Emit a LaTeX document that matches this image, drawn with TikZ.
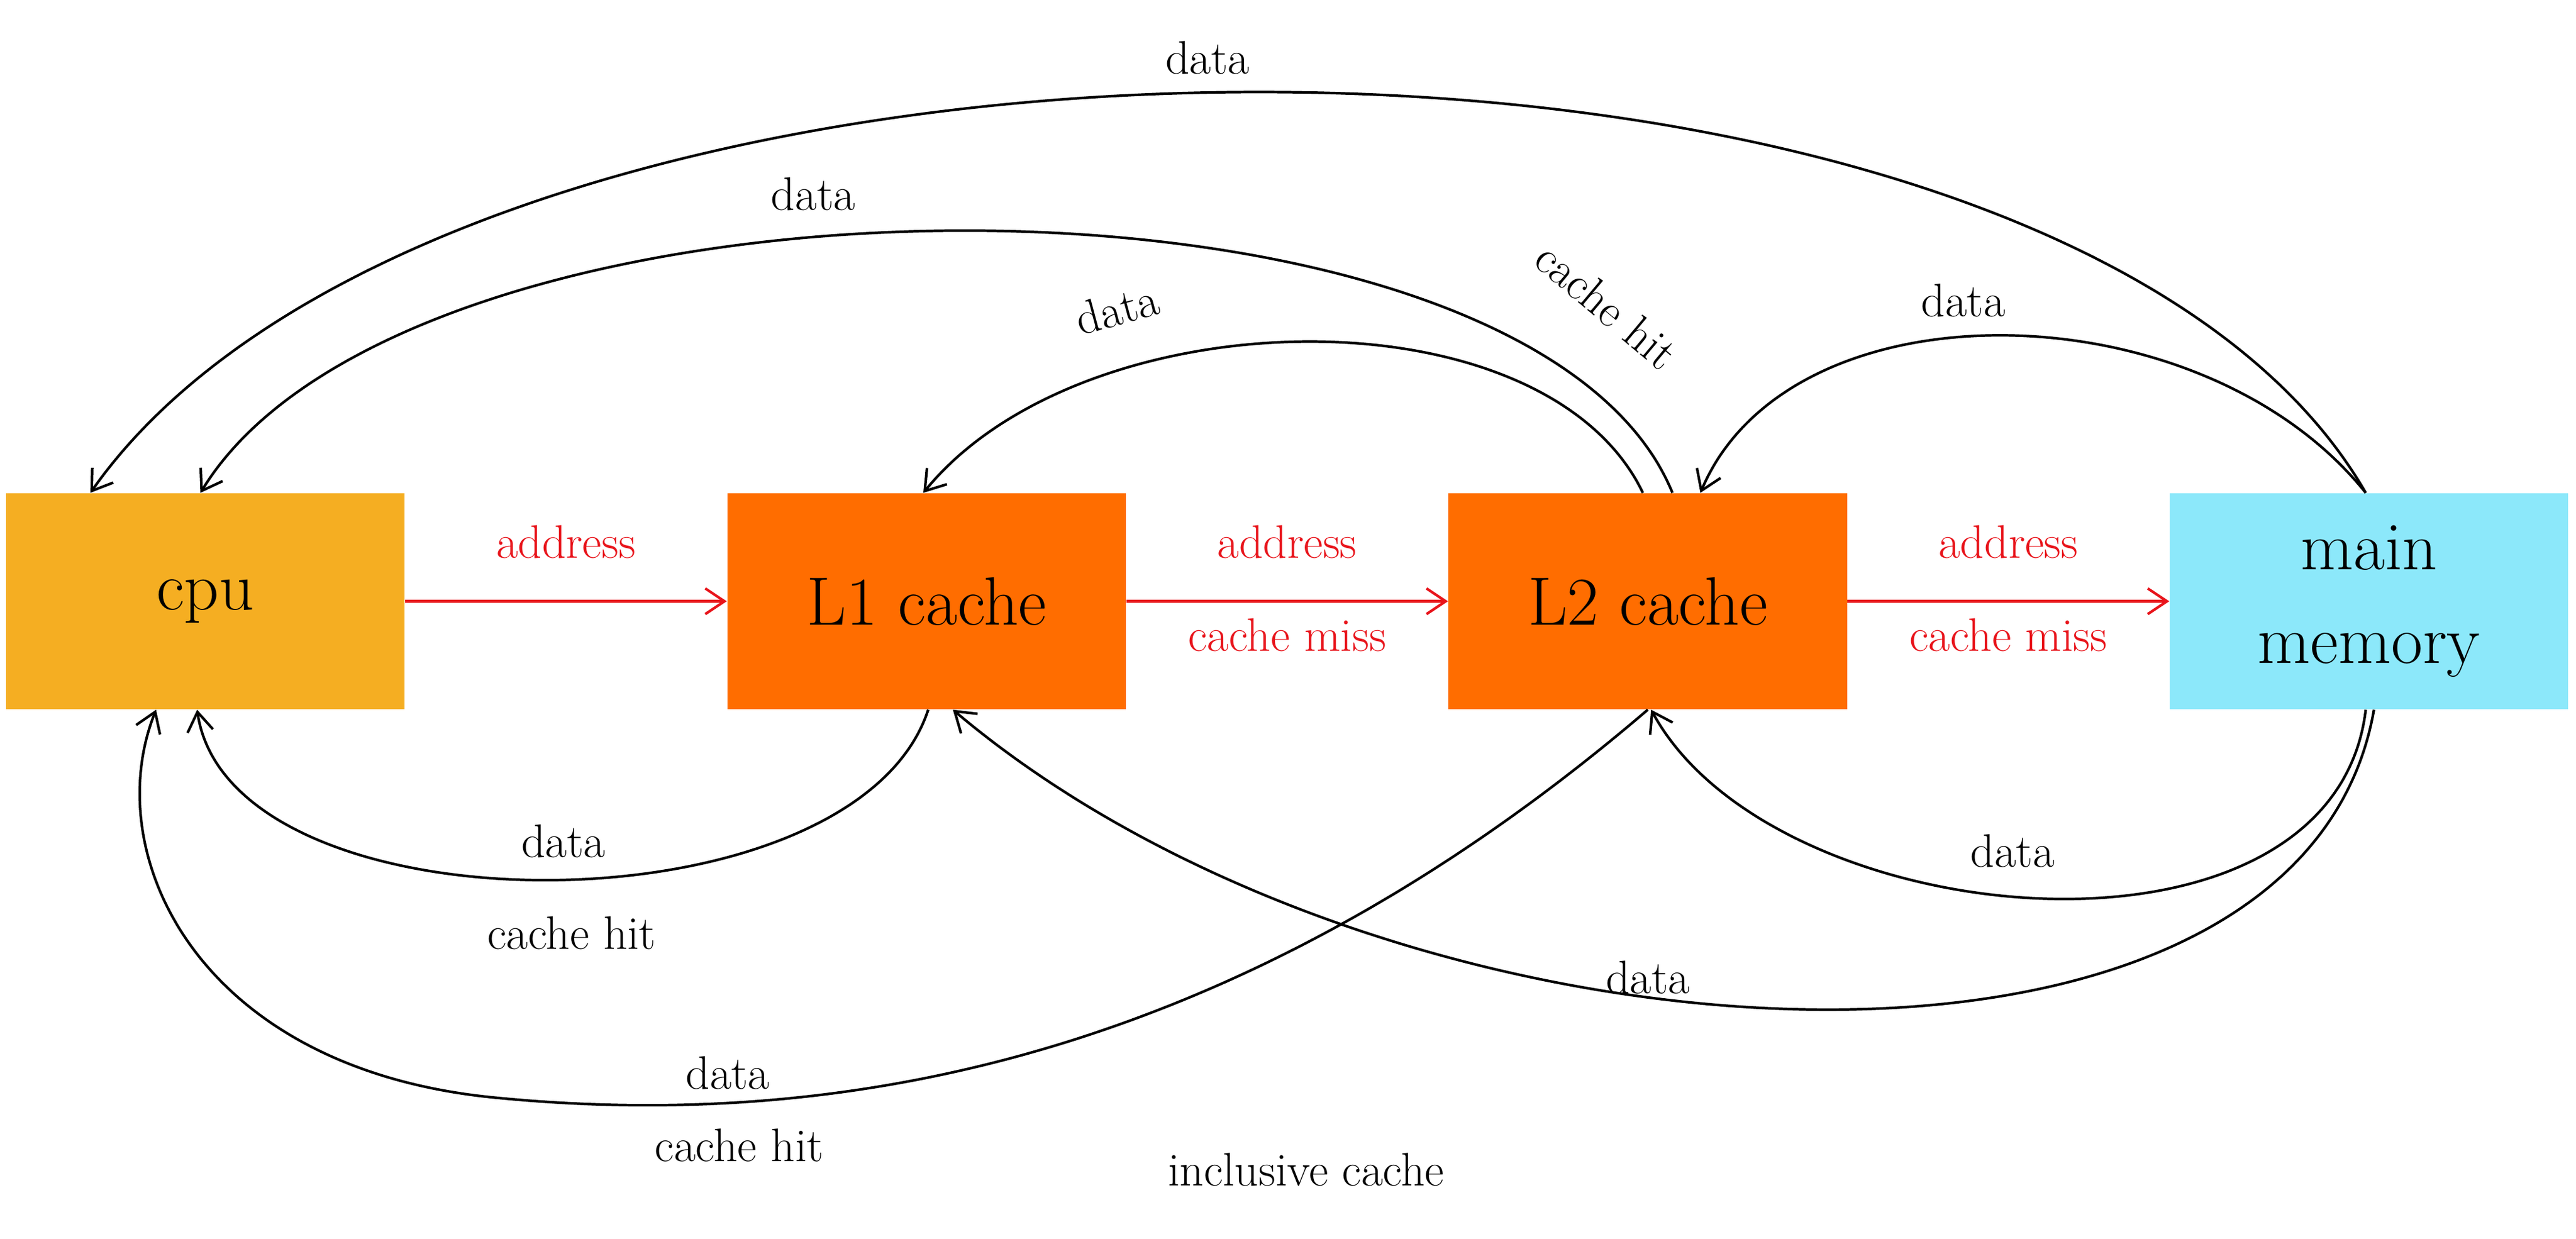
\documentclass[tikz,border=0pt]{standalone}
\usepackage{xcolor}
\usepackage{tikz}
\usetikzlibrary{arrows.meta,positioning}
\definecolor{cpucol}{HTML}{F5AE22}
\definecolor{cachecol}{HTML}{FF6D00}
\definecolor{memcol}{HTML}{8CE8FA}
\definecolor{addrred}{HTML}{E8141B}

\begin{document}
\begin{tikzpicture}[x=0.027cm,y=-0.027cm,
	box/.style={minimum width=6.55cm, minimum height=3.55cm, inner sep=0pt, font=\fontsize{32}{38}\selectfont, align=center},
	addr/.style={draw=addrred, line width=1.2pt, -{Straight Barb[length=9pt,width=12pt]}},
	flow/.style={draw, line width=1.2pt, -{Straight Barb[length=9pt,width=12pt]}},
	lbl/.style={font=\fontsize{22}{26}\selectfont},
	rlbl/.style={lbl, text=addrred}]
	\useasboundingbox (0,0) rectangle (1568,754);

	\node[box, fill=cpucol] (cpu) at (125,366) {cpu};
	\node[box, fill=cachecol] (l1) at (564,366) {L1 cache};
	\node[box, fill=cachecol] (l2) at (1003,366) {L2 cache};
	\node[box, fill=memcol] (mem) at (1442,366) {main\\[6pt]memory};

	% address path
	\draw[addr] (cpu) -- node[rlbl, above=16pt] {address} (l1);
	\draw[addr] (l1) -- node[rlbl, above=16pt] {address} node[rlbl, below=4pt] {cache miss} (l2);
	\draw[addr] (l2) -- node[rlbl, above=16pt] {address} node[rlbl, below=4pt] {cache miss} (mem);

	% data back, above
	\coordinate (memT) at (1440,300);
	\coordinate (l2Ta) at (1018,300);
	\coordinate (l2Tb) at (1000,300);
	\coordinate (l2Tc) at (1035,300);
	\coordinate (l1T) at (562,300);
	\coordinate (cpuTa) at (55,300);
	\coordinate (cpuTb) at (122,300);
	\draw[flow] (memT) .. controls (1250,-30) and (280,-20) .. (cpuTa);
	\draw[flow] (l2Ta) .. controls (930,85) and (250,90) .. (cpuTb);
	\draw[flow] (l2Tb) .. controls (940,175) and (660,180) .. (l1T);
	\draw[flow] (memT) .. controls (1340,175) and (1090,170) .. (l2Tc);
	\node[lbl] (t1) at (735,35) {data};
	\node[lbl] (t2) at (495,118) {data};
	\node[lbl, rotate=-40] (t3) at (978,186) {cache hit};
	\node[lbl, rotate=15] (t4) at (680,188) {data};
	\node[lbl] (t5) at (1195,183) {data};

	% data back, below
	\coordinate (memBa) at (1440,432);
	\coordinate (memBb) at (1445,432);
	\coordinate (l2B) at (1003,432);
	\coordinate (l2Bb) at (1005,432);
	\coordinate (l1Ba) at (565,432);
	\coordinate (l1Bb) at (580,432);
	\coordinate (cpuBa) at (120,432);
	\coordinate (cpuBb) at (95,432);
	\draw[flow] (l1Ba) .. controls (520,570) and (140,570) .. (cpuBa);
	\draw[flow] (l2B) .. controls (760,640) and (520,690) .. (300,668) .. controls (120,650) and (60,520) .. (cpuBb);
	\draw[flow] (memBa) .. controls (1420,600) and (1080,570) .. (l2Bb);
	\draw[flow] (memBb) .. controls (1400,690) and (850,660) .. (l1Bb);
	\node[lbl] (b1) at (343,512) {data};
	\node[lbl] (b2) at (348,568) {cache hit};
	\node[lbl] (b3) at (443,653) {data};
	\node[lbl] (b4) at (450,697) {cache hit};
	\node[lbl] (b5) at (1225,518) {data};
	\node[lbl] (b6) at (1003,595) {data};
	\node[lbl] (cap) at (795,712) {inclusive cache};
\end{tikzpicture}
\end{document}
